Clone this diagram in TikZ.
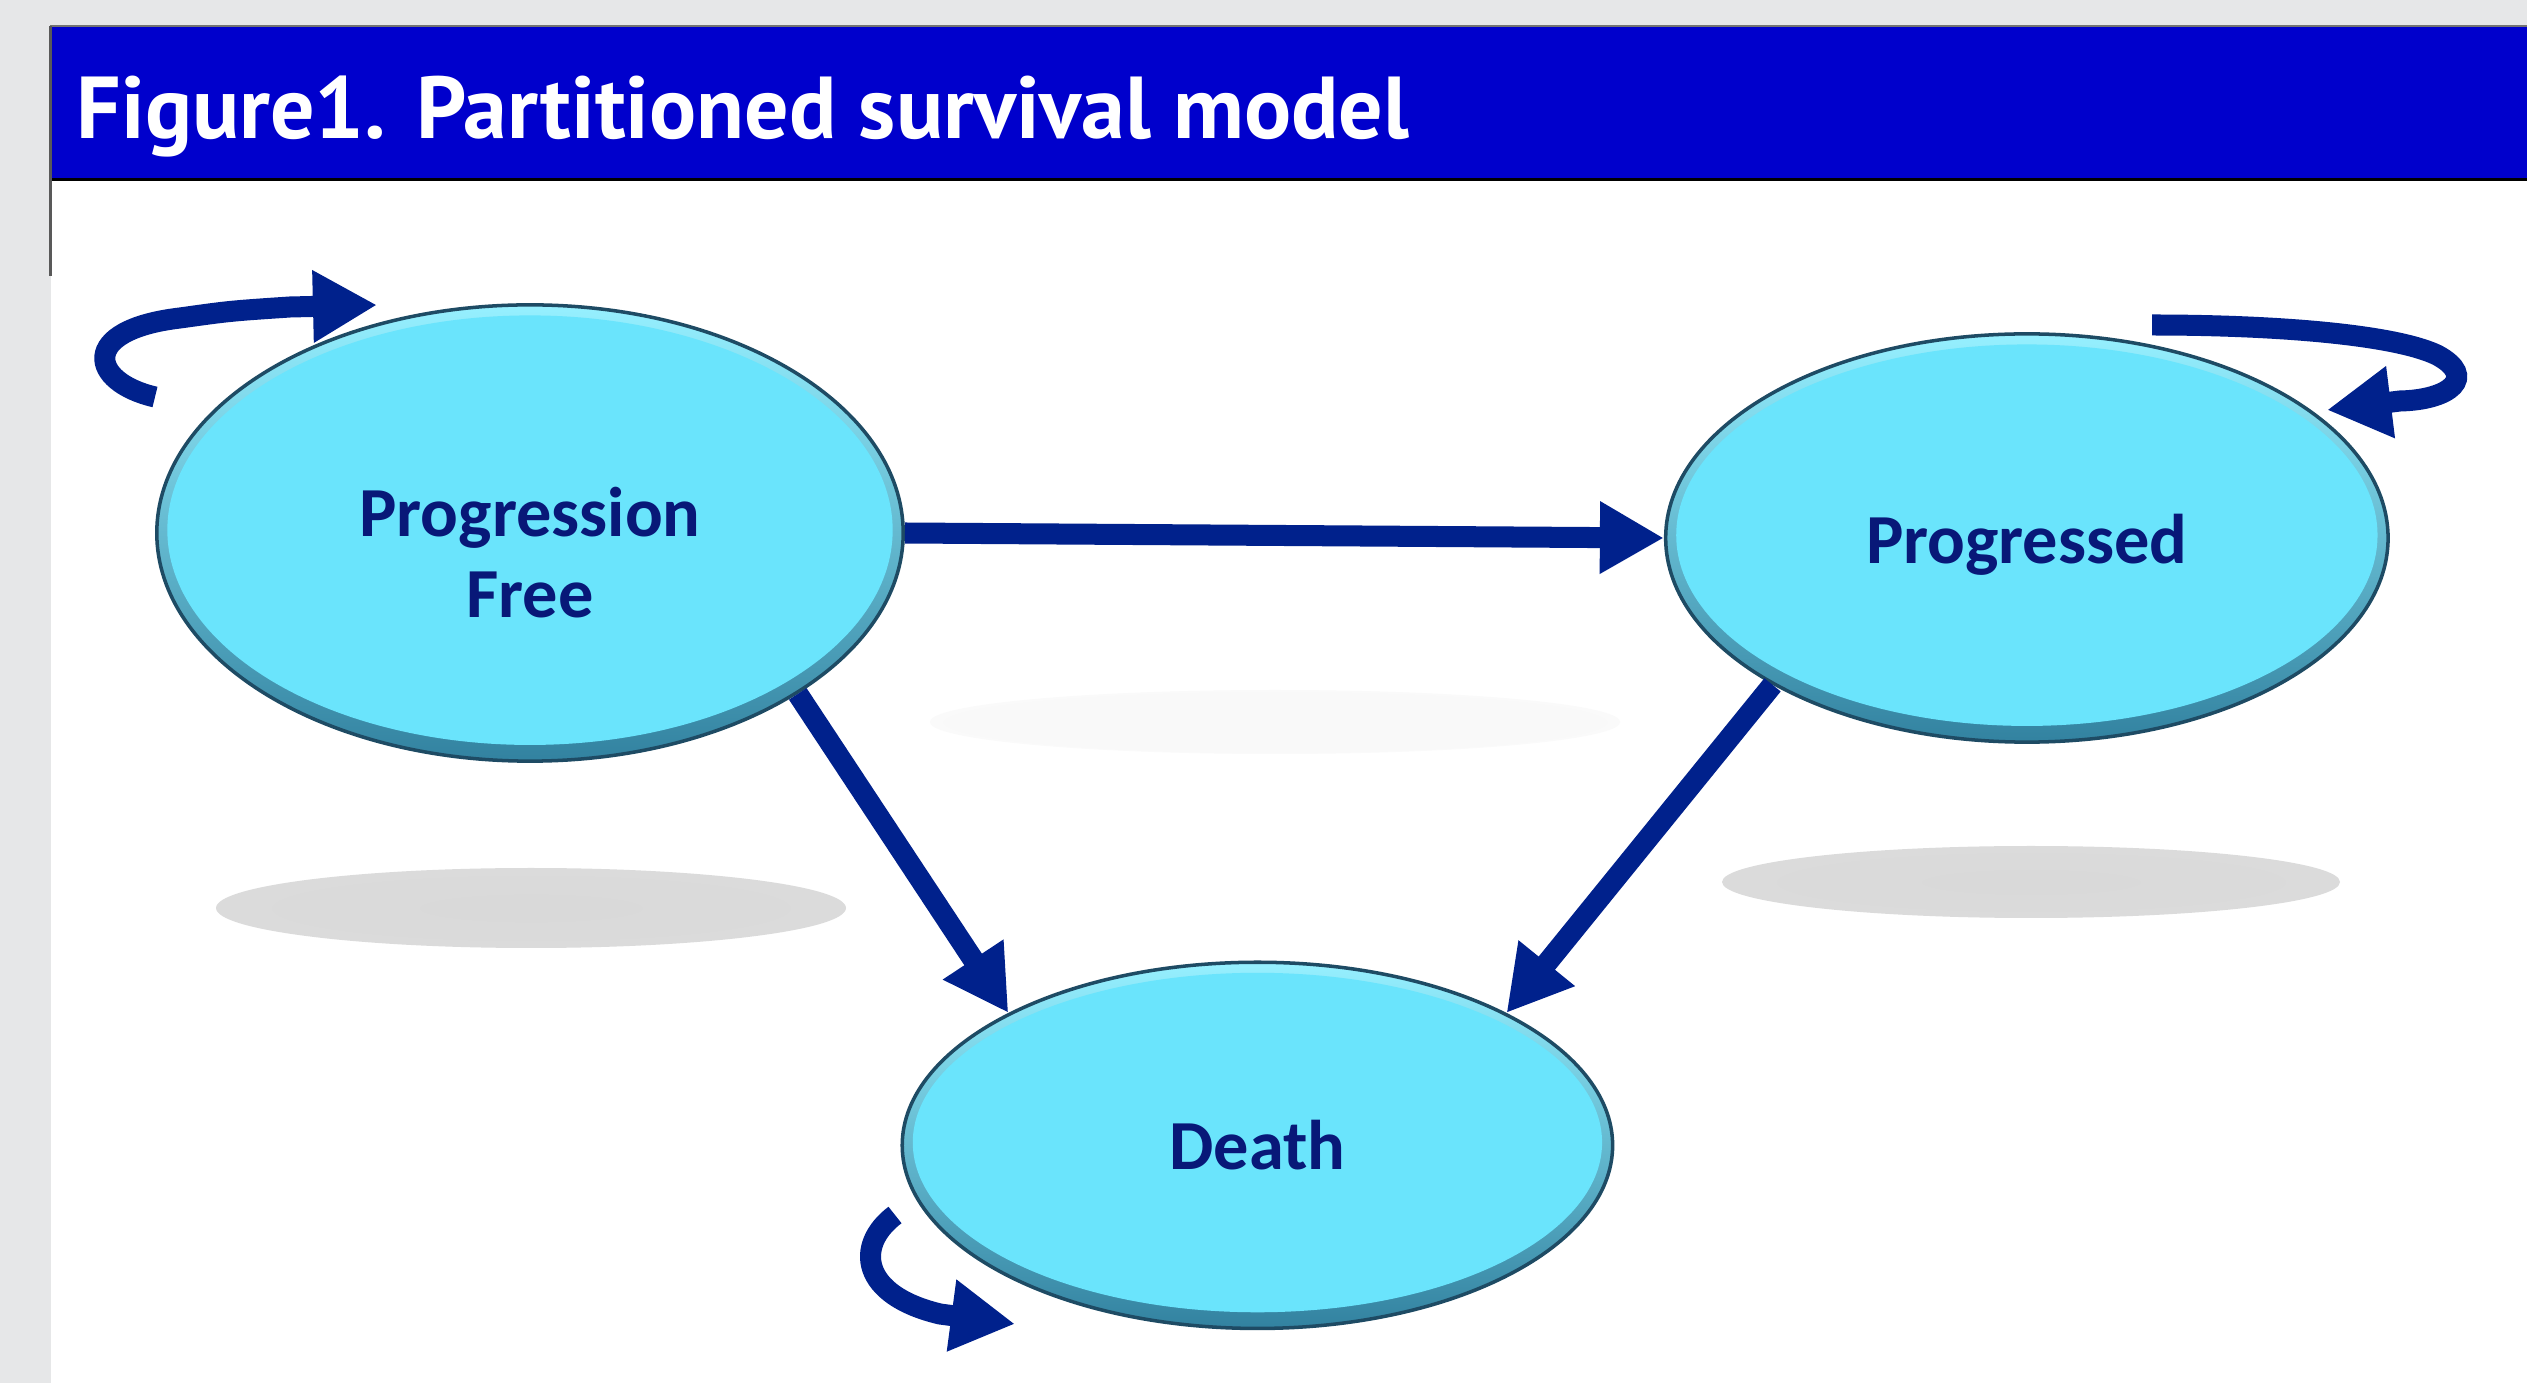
\documentclass[tikz,border=0pt]{standalone}
\usepackage{fontspec}
\usepackage{tikz}
\usetikzlibrary{shapes.geometric}
\usetikzlibrary{positioning}
\usetikzlibrary{arrows.meta}
\usetikzlibrary{calc}
\newfontfamily\titlefont{PT Sans}
\newfontfamily\statefont{Carlito}
\definecolor{pagegrey}{RGB}{230,231,232}
\definecolor{titleblue}{RGB}{0,0,204}
\definecolor{arrowblue}{RGB}{0,33,140}
\definecolor{textnavy}{RGB}{8,24,120}
\definecolor{statefill}{RGB}{106,228,252}
\definecolor{rimtop}{RGB}{150,240,255}
\definecolor{rimbot}{RGB}{50,130,160}
\definecolor{stateedge}{RGB}{30,75,100}
\pgfdeclareradialshading{shadowshade}{\pgfpoint{0bp}{0bp}}{color(0bp)=(black!15); color(30bp)=(black!14); color(44bp)=(black!10); color(50bp)=(black!4)}
\pgfdeclareradialshading{faintshade}{\pgfpoint{0bp}{0bp}}{color(0bp)=(black!2.5); color(35bp)=(black!2); color(50bp)=(white)}
\tikzset{
  state/.style n args={2}{ellipse, draw=stateedge, line width=1pt, top color=rimtop, bottom color=rimbot,
    minimum width=#1, minimum height=#2, inner sep=0pt, text=textnavy, align=center,
    font=\statefont\bfseries\fontsize{20}{23}\selectfont,
    path picture={\fill[statefill] ([yshift=0.8pt]path picture bounding box.center) ellipse [x radius=#1/2-3pt, y radius=#2/2-3.8pt];}},
  flow/.style={draw=arrowblue, line width=0.21cm, -{Triangle[length=0.64cm,width=0.68cm]}},
  floor shadow/.style={shading=shadowshade}
}
\begin{document}
\begin{tikzpicture}[x=0.01cm, y=-0.01cm]
\useasboundingbox (0,0) rectangle (2527,1383);
% page, panel and title bar
\fill [pagegrey] (0,0) rectangle (2527,1383);
\fill [white] (51,180) rectangle (2527,1383);
\fill [titleblue] (50,26) rectangle (2527,179);
\draw [black!55, line width=0.5pt] (50,26) -- (2527,26);
\draw [black, line width=1pt] (50,179.5) -- (2527,179.5);
\draw [black!65, line width=0.6pt] (50.5,26) -- (50.5,276);
\node (title) [anchor=base west, inner sep=0pt, text=white, font=\titlefont\bfseries\fontsize{25}{28}\selectfont] at (76,139) {Figure1. Partitioned survival model};
% shadows
\shade [floor shadow] (531,908) ellipse (315 and 40);
\shade [floor shadow] (2031,882) ellipse (309 and 36);
\shade [shading=faintshade] (1275,722) ellipse (345 and 32);
% states
\node (pf) [state={7.46cm}{4.56cm}] at (530,533) {\rule{0pt}{0.88cm}Progression\\Free};
\node (pg) [state={7.22cm}{4.08cm}, right of=pf, node distance=14.96cm, yshift=-0.05cm] {\rule{0pt}{0.62cm}Progressed};
\node (death) [state={7.10cm}{3.66cm}, below of=pf, node distance=6.12cm, xshift=7.27cm] {Death};
% transitions
\draw [flow] (pf.east) -- (pg.west);
\draw [flow] (pf.-31) -- (death.152);
\draw [flow] (pg.210) -- (death.28);
% staying in the same state
\coordinate (pfloop-tail) at (155,397);
\coordinate (pfloop-tip) at (377,305);
\coordinate (pgloop-tail) at (2152,325);
\coordinate (pgloop-tip) at (2327,410);
\coordinate (deathloop-tail) at (895,1215);
\coordinate (deathloop-tip) at (1015,1324);
\draw [flow] (pfloop-tail) .. controls (90,382) and (78,330) .. (180,318) .. controls (230,311) .. (290,307) -- (pfloop-tip);
\draw [flow] (pgloop-tail) .. controls (2280,325) and (2395,335) .. (2437,355) .. controls (2478,377) and (2450,400) .. (2400,401) -- (pgloop-tip);
\draw [flow] (deathloop-tail) .. controls (855,1245) and (860,1295) .. (940,1314) -- (deathloop-tip);
\end{tikzpicture}
\end{document}
